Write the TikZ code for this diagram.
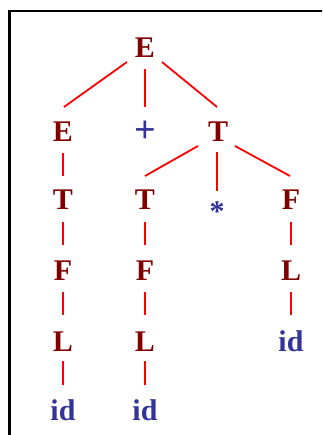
\documentclass[tikz,border=0pt]{standalone}
\usepackage{fontspec}
\setmainfont{Liberation Serif}
\definecolor{ntred}{RGB}{128,0,0}
\definecolor{tmblue}{RGB}{51,51,153}
\tikzset{
  nt/.style={font=\fontsize{30}{36}\selectfont\bfseries, text=ntred, anchor=base, inner sep=0pt},
  tm/.style={font=\fontsize{30}{36}\selectfont\bfseries, text=tmblue, anchor=base, inner sep=0pt},
  edge/.style={draw=red, line width=1.8pt},
  frame/.style={draw=black, line width=2.6pt}
}
\begin{document}
\begin{tikzpicture}[x=1pt,y=-1pt]
\useasboundingbox (0,0) rectangle (322,435);
\clip (0,0) rectangle (322,435);
\draw[frame] (9.5,445) -- (9.5,11) -- (335,11);
% nodes
\node[nt] (root) at (145,58) {E};
\node[nt] (E2) at (63,142) {E};
\node[tm, anchor=center, font=\fontsize{38}{44}\selectfont\bfseries] (plus) at (145,132) {+};
\node[nt] (T2) at (218,142) {T};
\node[nt] (T3a) at (63,210) {T};
\node[nt] (T3b) at (145,210) {T};
\node[tm, anchor=center] (star) at (217,212) {*};
\node[nt] (F3) at (291,210) {F};
\node[nt] (F4a) at (63,280) {F};
\node[nt] (F4b) at (145,280) {F};
\node[nt] (L4) at (291,280) {L};
\node[nt] (L5a) at (63,351) {L};
\node[nt] (L5b) at (145,351) {L};
\node[tm] (id5) at (291,351) {id};
\node[tm] (id6a) at (63,420) {id};
\node[tm] (id6b) at (145,420) {id};
% edges
\draw[edge] ([shift={(-18,4)}]root.base) -- ([shift={(1,-35)}]E2.base);
\draw[edge] ([shift={(0,11)}]root.base) -- ([shift={(0,-25)}]plus.center);
\draw[edge] ([shift={(17,4)}]root.base) -- ([shift={(-1,-35)}]T2.base);
\draw[edge] ([shift={(0,11)}]E2.base) -- ([shift={(0,-34)}]T3a.base);
\draw[edge] ([shift={(-20,4)}]T2.base) -- ([shift={(0,-34)}]T3b.base);
\draw[edge] ([shift={(-1,10)}]T2.base) -- ([shift={(0,-21)}]star.center);
\draw[edge] ([shift={(17,4)}]T2.base) -- ([shift={(-1,-34)}]F3.base);
\draw[edge] ([shift={(0,12)}]T3a.base) -- ([shift={(0,-35)}]F4a.base);
\draw[edge] ([shift={(0,12)}]T3b.base) -- ([shift={(0,-35)}]F4b.base);
\draw[edge] ([shift={(0,12)}]F3.base) -- ([shift={(0,-35)}]L4.base);
\draw[edge] ([shift={(0,12)}]F4a.base) -- ([shift={(0,-36)}]L5a.base);
\draw[edge] ([shift={(0,12)}]F4b.base) -- ([shift={(0,-36)}]L5b.base);
\draw[edge] ([shift={(0,12)}]L4.base) -- ([shift={(0,-36)}]id5.base);
\draw[edge] ([shift={(0,10)}]L5a.base) -- ([shift={(0,-35)}]id6a.base);
\draw[edge] ([shift={(0,10)}]L5b.base) -- ([shift={(0,-35)}]id6b.base);
\end{tikzpicture}
\end{document}
